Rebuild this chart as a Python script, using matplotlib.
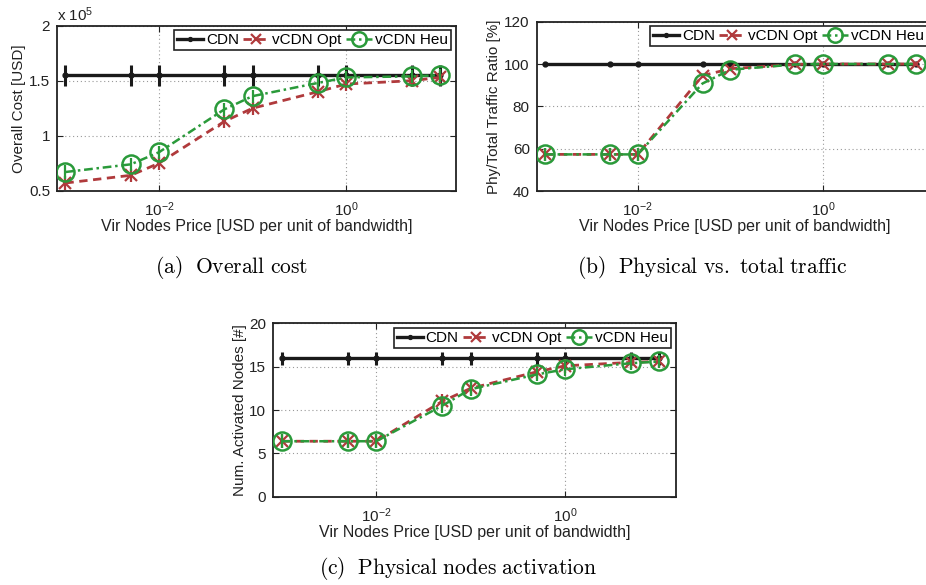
import matplotlib
matplotlib.use("Agg")
import matplotlib.pyplot as plt
import numpy as np

plt.rcParams['font.family'] = ['Liberation Sans', 'DejaVu Sans']
plt.rcParams['mathtext.default'] = 'regular'

# ---- data ----
price = [0.001, 0.005, 0.01, 0.05, 0.1, 0.5, 1, 5, 10]
series_names = ['CDN', 'vCDN Opt', 'vCDN Heu']

cost_cdn = [1.55, 1.55, 1.55, 1.55, 1.55, 1.55, 1.55, 1.55, 1.55]
cost_opt = [0.57, 0.64, 0.75, 1.13, 1.25, 1.40, 1.47, 1.50, 1.53]
cost_heu = [0.67, 0.74, 0.85, 1.24, 1.36, 1.48, 1.53, 1.54, 1.55]
cost_err_cdn = [0.095] * 9
cost_err_opt = [0.06] * 9
cost_err_heu = [0.06] * 9

ratio_cdn = [100, 100, 100, 100, 100, 100, 100, 100, 100]
ratio_opt = [57.3, 57.3, 57.3, 94.5, 97.8, 99.8, 100, 100, 100]
ratio_heu = [57.3, 57.3, 57.3, 90.8, 97.3, 99.8, 100, 100, 100]
ratio_err = [3.0, 3.0, 3.0, 0, 0, 0, 0, 0, 0]

nodes_cdn = [16, 16, 16, 16, 16, 16, 16, 16, 16]
nodes_opt = [6.4, 6.4, 6.4, 11.0, 12.5, 14.4, 15.1, 15.5, 15.6]
nodes_heu = [6.4, 6.4, 6.4, 10.5, 12.4, 14.1, 14.7, 15.4, 15.6]
nodes_err_cdn = [0.75] * 9
nodes_err_opt = [0.8] * 9
nodes_err_heu = [0.8] * 9

xticks = [1e-2, 1e0]
xticklabels = [r'$10^{-2}$', r'$10^{0}$']
xlabel = 'Vir Nodes Price [USD per unit of bandwidth]'
captions = ['(a)  Overall cost', '(b)  Physical vs. total traffic', '(c)  Physical nodes activation']

BLACK = '#1a1a1a'
RED = '#b03a3c'
GREEN = '#2a9a3a'

FS = 11

fig = plt.figure(figsize=(9.26, 5.85), dpi=100)

def make_ax(rect, ylim, yticks, ylabel, yticklabels=None):
    ax = fig.add_axes(rect)
    ax.set_xscale('log')
    ax.set_xlim(10 ** -3.09, 10 ** 1.175)
    ax.set_ylim(*ylim)
    ax.set_xticks(xticks)
    ax.set_xticklabels(xticklabels)
    ax.xaxis.set_minor_locator(matplotlib.ticker.NullLocator())
    ax.set_yticks(yticks)
    if yticklabels is not None:
        ax.set_yticklabels(yticklabels)
    ax.tick_params(direction='in', length=4, width=0.8, top=True, right=True,
                   labelsize=FS, colors='#222222')
    ax.tick_params(axis='x', pad=7)
    ax.tick_params(axis='y', pad=5)
    ax.grid(True, linestyle=(0, (1, 2.5)), color='#999999', linewidth=0.8)
    for s in ax.spines.values():
        s.set_linewidth(1.3)
        s.set_color('#222222')
    ax.set_xlabel(xlabel, fontsize=11.5, labelpad=0, color='#222222')
    ax.set_ylabel(ylabel, fontsize=FS, labelpad=2, color='#222222')
    return ax

def draw(ax, cdn, opt, heu, ecdn=None, eopt=None, eheu=None):
    if ecdn is not None:
        ax.errorbar(price, cdn, yerr=ecdn, fmt='none', ecolor=BLACK, elinewidth=2.2, capsize=0, zorder=3)
    if eopt is not None:
        ax.errorbar(price, opt, yerr=eopt, fmt='none', ecolor=RED, elinewidth=1.6, capsize=0, zorder=4)
    if eheu is not None:
        ax.errorbar(price, heu, yerr=eheu, fmt='none', ecolor=GREEN, elinewidth=1.6, capsize=0, zorder=5)
    h1, = ax.plot(price, cdn, color=BLACK, lw=2.4, marker='o', ms=3.5, label=series_names[0], zorder=3)
    h2, = ax.plot(price, opt, color=RED, lw=2.0, ls=(0, (3, 2)), marker='x', ms=9, mew=1.6,
                  label=series_names[1], zorder=4)
    h3, = ax.plot(price, heu, color=GREEN, lw=1.8, ls=(0, (3.5, 1.5, 1, 1.5)), marker='o', ms=13,
                  mfc='none', mec=GREEN, mew=1.8, label=series_names[2], zorder=5)
    leg = ax.legend(handles=[h1, h2, h3], loc='upper right', ncol=3, fontsize=FS,
                    frameon=True, fancybox=False, edgecolor='#222222', framealpha=1,
                    handlelength=1.7, handletextpad=0.2, columnspacing=0.3,
                    borderpad=0.2, borderaxespad=0.3, markerscale=0.8)
    leg.get_frame().set_linewidth(1.2)
    return ax

# (a)
ax1 = make_ax([0.0616, 0.674, 0.4309, 0.282], (0.5, 2.0), [0.5, 1, 1.5, 2], 'Overall Cost [USD]',
              ['0.5', '1', '1.5', '2'])
draw(ax1, cost_cdn, cost_opt, cost_heu, cost_err_cdn, cost_err_opt, cost_err_heu)
ax1.text(0.0, 1.01, r'x $10^{5}$', transform=ax1.transAxes, fontsize=FS, ha='left', va='bottom',
         color='#222222')

# (b)
ax2 = make_ax([0.5796, 0.6735, 0.4269, 0.2894], (40, 120), [40, 60, 80, 100, 120],
              'Phy/Total Traffic Ratio [%]')
draw(ax2, ratio_cdn, ratio_opt, ratio_heu, None, ratio_err, ratio_err)

# (c)
ax3 = make_ax([0.2951, 0.1509, 0.4349, 0.2964], (0, 20), [0, 5, 10, 15, 20],
              'Num. Activated Nodes [#]')
draw(ax3, nodes_cdn, nodes_opt, nodes_heu, nodes_err_cdn, nodes_err_opt, nodes_err_heu)

# captions (Computer Modern via mathtext)
def cm(s):
    return r'$\mathrm{' + s.replace(' ', r'\ ') + '}$'
CAP = 15.5
fig.text(232 / 926, 1 - 268 / 585, cm(captions[0]), fontsize=CAP, ha='center', va='center', math_fontfamily='cm')
fig.text(712 / 926, 1 - 268 / 585, cm(captions[1]), fontsize=CAP, ha='center', va='center', math_fontfamily='cm')
fig.text(458 / 926, 1 - 569 / 585, cm(captions[2]), fontsize=CAP, ha='center', va='center', math_fontfamily='cm')

fig.savefig('out.png', dpi=100)
